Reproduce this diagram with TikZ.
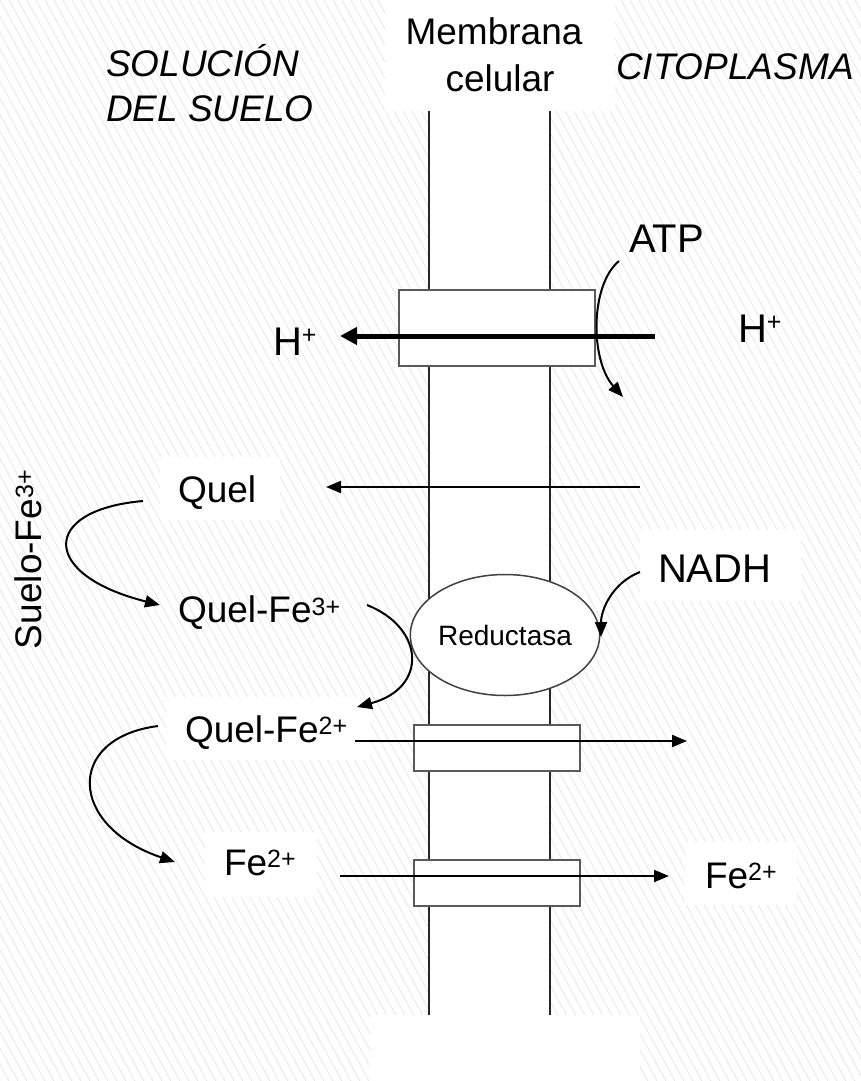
\documentclass[tikz,border=0pt]{standalone}
\usepackage{fontspec}
\setmainfont{Liberation Sans}
\usetikzlibrary{arrows.meta,shapes.geometric}
\newcommand\fA{\fontsize{37}{44}\selectfont}
\newcommand\fB{\fontsize{40}{48}\selectfont}
\newcommand\fR{\fontsize{28}{33}\selectfont}
\newcommand\sups[2][8pt]{\raisebox{#1}{\fontsize{25}{25}\selectfont #2}}
\begin{document}
\begin{tikzpicture}[x=1pt,y=-1pt,
  lbl/.style={inner sep=0pt, outer sep=0pt, anchor=base west, font=\fA},
  biglbl/.style={inner sep=0pt, outer sep=0pt, anchor=base west, font=\fB},
  hatch/.style={draw=black!11, line width=0.7pt},
  porter/.style={draw=black!65, fill=white, line width=2pt, inner sep=0pt},
  memb/.style={draw=black!85, line width=1.6pt},
  arr/.style={draw=black, line width=2pt, -{Triangle[length=15pt,width=12pt]}},
  pumparr/.style={draw=black, line width=5pt, -{Triangle[length=17pt,width=17pt]}}
]
\useasboundingbox (0,0) rectangle (861,1081);
% background hatching
\begin{scope}
  \clip (0,0) rectangle (861,1081);
  \foreach \i in {-72,...,100} {
    \draw[hatch] (\i*9,0) -- (\i*9+594,1081);
  }
\end{scope}
% white areas
\fill[white] (429,111) rectangle (550,1015);
\fill[white] (385,0) rectangle (615,111);
\fill[white] (370,1015) rectangle (640,1081);
\fill[white] (160,457) rectangle (280,520);
\fill[white] (640,530) rectangle (801,601);
\fill[white] (166,697) rectangle (370,760);
\fill[white] (205,832) rectangle (317,897);
\fill[white] (685,842) rectangle (797,905);
% membrane
\draw[memb] (429,111) -- (429,1015);
\draw[memb] (550,111) -- (550,1015);
% transporters and enzyme
\node[porter, minimum width=196pt, minimum height=76pt] (pump) at (497,328) {};
\node[porter, minimum width=166pt, minimum height=46pt] (tq) at (497,748) {};
\node[porter, minimum width=166pt, minimum height=46pt] (tf) at (497,883) {};
\node[ellipse, draw=black!75, fill=white, line width=1.5pt, minimum width=180pt,
      minimum height=121pt, inner sep=0pt, font=\fR] (red) at (505,635) {Reductasa};
% texts
\node[lbl, font=\fA\itshape] (sol1) at (106,76) {SOLUCIÓN};
\node[lbl, font=\fA\itshape] (sol2) at (106,121) {DEL SUELO};
\node[lbl, font=\fA\itshape] (cito) at (616,79) {CITOPLASMA};
\node[lbl, anchor=base] (mem1) at (494,45) {Membrana};
\node[lbl, anchor=base] (mem2) at (500,91) {celular};
\node[biglbl] (atp) at (629,252) {ATP};
\node[biglbl] (hr) at (738,342) {H\sups[12pt]{+}};
\node[biglbl] (hl) at (273,355) {H\sups[12pt]{+}};
\node[biglbl] (nadh) at (658,582) {NADH};
\node[lbl] (quel) at (178,502) {Quel};
\node[lbl] (quel3) at (178,622) {Quel-Fe\sups[7pt]{3+}};
\node[lbl] (quel2) at (185,742) {Quel-Fe\sups{2+}};
\node[lbl] (fel) at (224,875) {Fe\sups{2+}};
\node[lbl] (fer) at (705,888) {Fe\sups{2+}};
\node[lbl, rotate=90] (suelo) at (41,649) {Suelo-Fe\sups{3+}};
% connector end points
\coordinate (pS) at (655,336);  \coordinate (pE) at (340,336);
\coordinate (aS) at (619,261);  \coordinate (aE) at (623,397);
\coordinate (qS) at (640,487);  \coordinate (qE) at (326,487);
\coordinate (c1S) at (143,501); \coordinate (c1E) at (160,605);
\coordinate (c2S) at (367,605); \coordinate (c2E) at (357,707);
\coordinate (nS) at (640,572);  \coordinate (nE) at (601,637);
\coordinate (q2S) at (355,741); \coordinate (q2E) at (687,741);
\coordinate (c4S) at (158,726); \coordinate (c4E) at (175,862);
\coordinate (fS) at (340,876);  \coordinate (fE) at (669,876);
% connectors
\draw[pumparr] (pS) -- (pE);
\draw[arr] (aS) .. controls (590,285) and (590,360) .. (aE);
\draw[arr] (qS) -- (qE);
\draw[arr] (c1S) .. controls (40,510) and (40,575) .. (c1E);
\draw[arr] (c2S) .. controls (425,628) and (428,688) .. (c2E);
\draw[arr] (nS) .. controls (612,583) and (601,610) .. (nE);
\draw[arr] (q2S) -- (q2E);
\draw[arr] (c4S) .. controls (65,738) and (68,826) .. (c4E);
\draw[arr] (fS) -- (fE);
\end{tikzpicture}
\end{document}
